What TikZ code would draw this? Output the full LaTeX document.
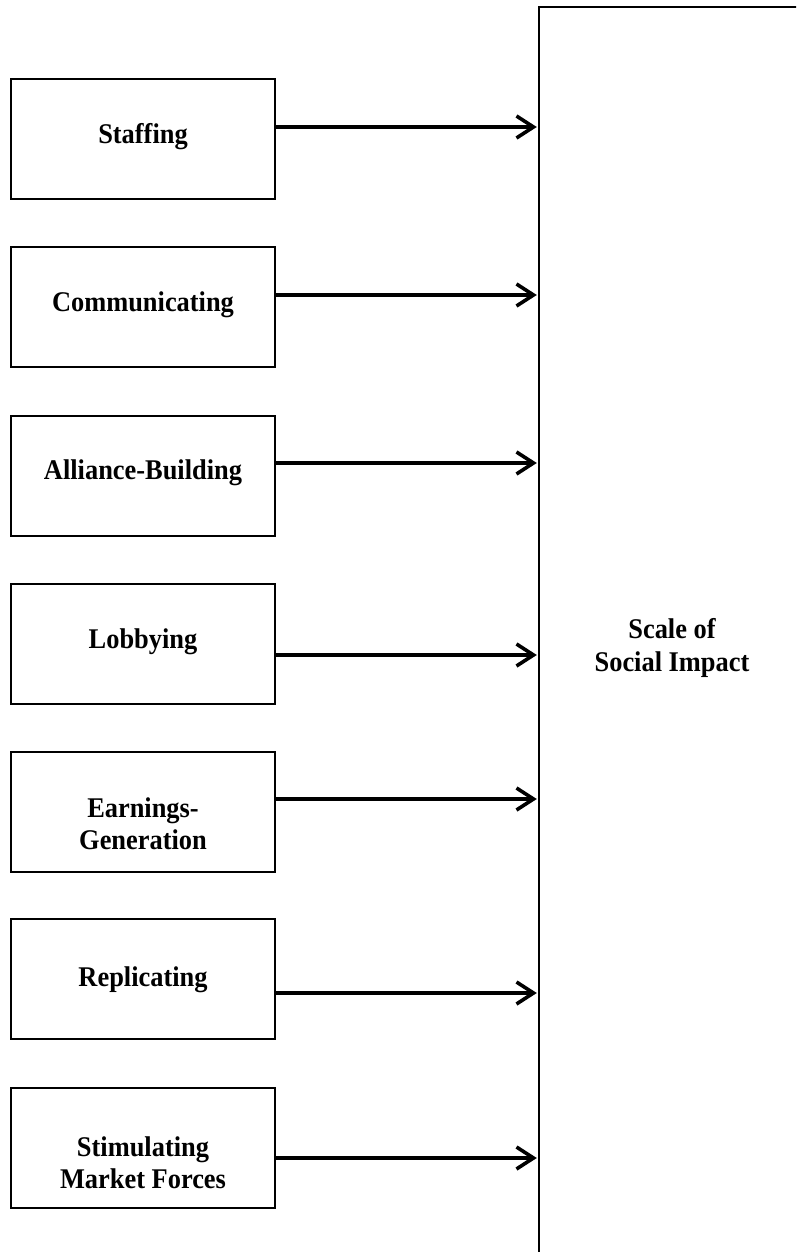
\documentclass[tikz,border=0pt]{standalone}
\usepackage{fontspec}
\setmainfont{Liberation Serif}
\usetikzlibrary{arrows.meta}
\begin{document}
\begin{tikzpicture}[x=1pt,y=-1pt,
  box/.style={draw=black,line width=2pt,minimum width=264pt,minimum height=120pt,inner sep=0pt},
  txt/.style={font=\fontsize{26.4pt}{30pt}\selectfont\bfseries,align=center,inner sep=0pt,yscale=1.08,transform shape},
  arr/.style={line width=3.8pt,-{Straight Barb[length=17pt,width=22pt,line width=3.6pt]}}]
\useasboundingbox (0,0) rectangle (796,1252);
\clip (0,0) rectangle (796,1252);
\node[box,line width=2.4pt,minimum width=266pt,minimum height=1263pt] (big) at (672,638.5) {};
\node[txt] (tbig) at (672,648) {Scale of\\Social Impact};
% left boxes
\node[box] (b1) at (143,139) {};
\node[box] (b2) at (143,307) {};
\node[box] (b3) at (143,475.5) {};
\node[box] (b4) at (143,643.5) {};
\node[box] (b5) at (143,811.5) {};
\node[box] (b6) at (143,979) {};
\node[box] (b7) at (143,1147.5) {};
\node[txt] (t1) at (143,137) {Staffing};
\node[txt] (t2) at (143,305) {Communicating};
\node[txt] (t3) at (143,473) {Alliance-Building};
\node[txt] (t4) at (143,642) {Lobbying};
\node[txt] (t5) at (143,824) {Earnings-\\Generation};
\node[txt] (t6) at (143,980) {Replicating};
\node[txt] (t7) at (143,1163) {Stimulating\\Market Forces};
% arrow heights
\coordinate (y1) at (0,127);
\coordinate (y2) at (0,295);
\coordinate (y3) at (0,463);
\coordinate (y4) at (0,655);
\coordinate (y5) at (0,799);
\coordinate (y6) at (0,993);
\coordinate (y7) at (0,1158);
\foreach \i in {1,...,7}{
  \draw[arr] (b\i.east |- y\i) -- ([xshift=-1pt]big.west |- y\i);
}
\end{tikzpicture}
\end{document}
